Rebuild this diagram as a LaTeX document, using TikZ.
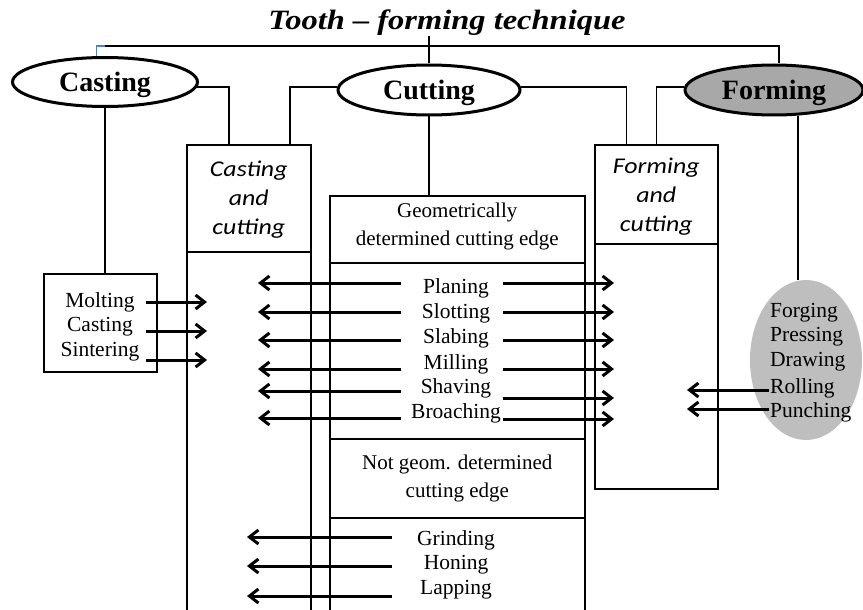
\documentclass[tikz,border=0pt]{standalone}
\usepackage{fontspec}
\setmainfont{Liberation Serif}
\newfontfamily\srf{Liberation Serif}
\newfontfamily\ttl[FakeStretch=1.16]{Liberation Serif}
\newfontfamily\sns[FakeStretch=1.15]{Carlito}
\usetikzlibrary{shapes.geometric,arrows.meta}
\definecolor{formgray}{HTML}{A8A8A8}
\definecolor{forggray}{HTML}{BEBEBE}
\definecolor{linkblue}{HTML}{4F81BD}
\begin{document}
\begin{tikzpicture}[x=1pt,y=-1pt,
 line/.style={line width=1.6pt},
 box/.style={draw, line width=1.6pt, inner sep=0pt, anchor=north west},
 oval/.style={ellipse, draw, line width=3pt, inner sep=0pt, text height=19pt, text depth=0pt, font=\srf\bfseries\fontsize{28}{30}\selectfont},
 arr/.style={line width=3pt, -{Straight Barb[length=9pt,width=14pt]}},
 lst/.style={inner sep=0pt, font=\srf\fontsize{21.5}{25}\selectfont},
 hdr/.style={inner sep=0pt, align=center, font=\srf\fontsize{21}{28}\selectfont},
 ita/.style={inner sep=0pt, align=center, font=\sns\itshape\fontsize{22.5}{29}\selectfont},
]
\useasboundingbox (0,0) rectangle (863,610);
\clip (0,0) rectangle (863,610);

% title
\node[font=\ttl\bfseries\itshape\fontsize{28}{30}\selectfont, anchor=base, inner sep=0pt] (title) at (447,30) {Tooth – forming technique};

% ellipses
\node[oval, fill=white, minimum width=185, minimum height=49] (casting) at (105,82) {Casting};
\node[oval, fill=white, minimum width=182, minimum height=50] (cutting) at (429,90) {Cutting};
\node[oval, fill=formgray, minimum width=178, minimum height=50] (forming) at (774,90) {Forming};
\node[ellipse, fill=forggray, minimum width=112, minimum height=160, inner sep=0pt] (forging) at (806,360) {};

% boxes
\node[box, minimum width=124, minimum height=107] (cch) at (186,144) {};
\node[box, minimum width=124, minimum height=370] (ccb) at (186,251) {};
\node[box, minimum width=255, minimum height=67] (geoh) at (329,195) {};
\node[box, minimum width=255, minimum height=176] (geob) at (329,262) {};
\node[box, minimum width=255, minimum height=79] (ngh) at (329,438) {};
\node[box, minimum width=255, minimum height=100] (ngb) at (329,517) {};
\node[box, minimum width=123, minimum height=99] (fch) at (594,144) {};
\node[box, minimum width=123, minimum height=245] (fcb) at (594,243) {};
\node[box, minimum width=113, minimum height=98] (molt) at (43,273) {};

% box texts
\node[ita] (cctext) at ([yshift=-1.5pt]cch.center) {Casting\\and\\cutting};
\node[ita] (fctext) at ([yshift=-2pt]fch.center) {Forming\\and\\cutting};
\node[hdr] (geotext) at ([yshift=2.5pt]geoh.center) {Geometrically\\determined cutting edge};
\node[hdr] (ngtext) at ([yshift=0pt]ngh.center) {Not geom. determined\\cutting edge};

% top connectors
\coordinate (bl) at (96.7,46);
\coordinate (tl) at (105,46);
\coordinate (tr) at (779,46);
\coordinate (fv) at (798,0);
\draw[linkblue, line width=1.3pt] (bl |- casting.north) -- (bl) -- (tl);
\draw[line] (tl) -- (tr) -- (tr |- forming.north);
\draw[line] (title.south -| cutting.north) -- (cutting.north);
\draw[line] (cutting.south) -- (cutting.south |- geoh.north);
\draw[line] (casting.-3) -| ([xshift=-20pt]cch.north);
\draw[line] (cutting.178) -| ([xshift=41pt]cch.north);
\draw[line] (cutting.2) -| ([xshift=-30pt]fch.north);
\draw[line] (forming.178) -| (fch.north);
\draw[line] (casting.south) -- (casting.south |- molt.north);
\draw[line] (forming.south -| fv) -- (fv |- forging.north);

% list texts
\foreach \t/\y [count=\i] in {Molting/302,Casting/327,Sintering/352}
  \node[lst] (m\i) at (100,\y) {\t};
\foreach \t/\y [count=\i] in {Planing/288,Slotting/313,Slabing/338,Milling/364,Shaving/388,Broaching/413}
  \node[lst] (g\i) at (456,\y) {\t};
\foreach \t/\y [count=\i] in {Grinding/540,Honing/565,Lapping/590}
  \node[lst] (n\i) at (456,\y) {\t};
\foreach \t/\y [count=\i] in {Forging/313,Pressing/337,Drawing/362,Rolling/388,Punching/412}
  \node[lst, anchor=west] (f\i) at (770,\y) {\t};

% arrows
\foreach \y [count=\i] in {302,331,360} {
  \coordinate (ma\i) at (146,\y); \coordinate (mb\i) at (207,\y);
  \draw[arr] (ma\i) -- (mb\i);}
\foreach \y [count=\i] in {283,312,340,369,391,418} {
  \coordinate (la\i) at (401,\y); \coordinate (lb\i) at (258,\y);
  \draw[arr] (la\i) -- (lb\i);}
\foreach \y [count=\i] in {283,312,340,369,398,419} {
  \coordinate (ra\i) at (503,\y); \coordinate (rb\i) at (614,\y);
  \draw[arr] (ra\i) -- (rb\i);}
\foreach \y [count=\i] in {537,566,596} {
  \coordinate (na\i) at (392,\y); \coordinate (nb\i) at (247,\y);
  \draw[arr] (na\i) -- (nb\i);}
\foreach \y [count=\i] in {390,409} {
  \coordinate (fa\i) at (769,\y); \coordinate (fb\i) at (687,\y);
  \draw[arr] (fa\i) -- (fb\i);}
\end{tikzpicture}
\end{document}
